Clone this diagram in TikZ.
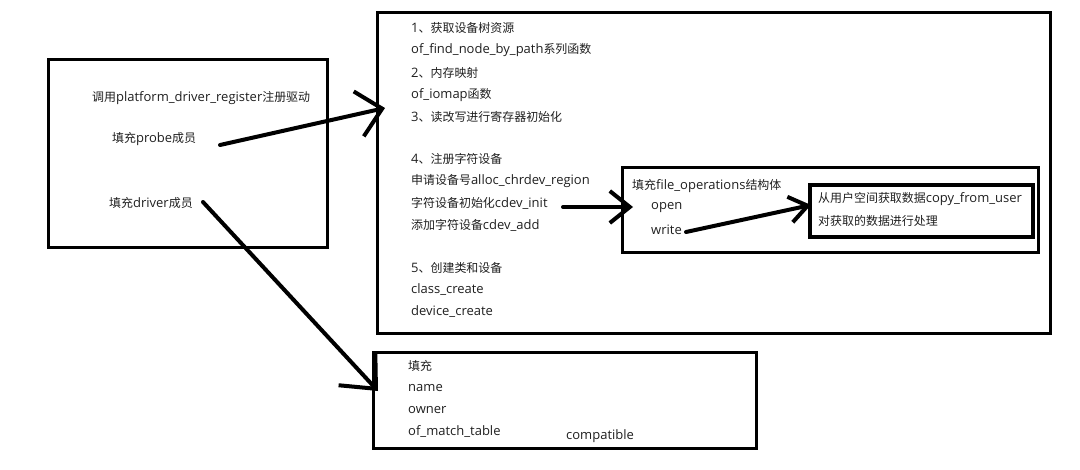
\documentclass[tikz,border=0pt]{standalone}
\usepackage{fontspec}
\setmainfont{Open Sans}
\newfontfamily\cjkfont[Scale=0.92]{Noto Sans CJK SC}
\newcommand{\zh}[1]{{\cjkfont #1}}
\usetikzlibrary{arrows.meta,positioning}

\tikzset{
  box/.style={draw, line width=3pt, inner sep=0pt},
  txt/.style={anchor=west, inner sep=0pt, font=\fontsize{13}{15}\selectfont, text=black!88},
  hand/.style={line width=4pt, line cap=round, line join=round},
}

\begin{document}
\begin{tikzpicture}[x=1pt,y=-1pt]
\useasboundingbox (0,0) rectangle (1080,469);
% Driver box
\node[box, minimum width=279pt, minimum height=188pt] (drvbox) at (187.5,153) {};
\node[txt] (reg) at (92,98) {\zh{调用}platform\_driver\_register\zh{注册驱动}};
\node[txt] (probe) at (112,139) {\zh{填充}probe\zh{成员}};
\node[txt] (drv) at (109,203) {\zh{填充}driver\zh{成员}};
% Probe box
\node[box, minimum width=673pt, minimum height=321pt] (probebox) at (713.5,172.5) {};
\foreach \i/\y/\t in {1/28/{1\zh{、获取设备树资源}},
                      2/50/{of\_find\_node\_by\_path\zh{系列函数}},
                      3/73/{2\zh{、内存映射}},
                      4/95/{of\_iomap\zh{函数}},
                      5/117/{3\zh{、读改写进行寄存器初始化}},
                      6/159/{4\zh{、注册字符设备}},
                      7/181/{\zh{申请设备号}alloc\_chrdev\_region},
                      8/203/{\zh{字符设备初始化}cdev\_init},
                      9/225/{\zh{添加字符设备}cdev\_add},
                      10/268/{5\zh{、创建类和设备}},
                      11/290/{class\_create},
                      12/312/{device\_create}} {
  \node[txt] (ln\i) at (411,\y) {\t};
}
% file_operations box
\node[box, minimum width=416pt, minimum height=85pt] (fopsbox) at (830,209.5) {};
\node[txt] (fops) at (632,186) {\zh{填充}file\_operations\zh{结构体}};
\node[txt] (open) at (651,208) {open};
\node[txt] (write) at (651,230) {write};
% write box
\node[box, line width=4pt, minimum width=223pt, minimum height=52pt] (wrbox) at (921.5,211) {};
\node[txt] (copy) at (818,199) {\zh{从用户空间获取数据}copy\_from\_user};
\node[txt] (proc) at (818,221) {\zh{对获取的数据进行处理}};
% driver member box
\node[box, minimum width=383pt, minimum height=96pt] (membox) at (564.5,400) {};
\node[txt] (fill) at (408,366) {\zh{填充}};
\node[txt] (name) at (408,388) {name};
\node[txt] (owner) at (408,410) {owner};
\node[txt] (match) at (408,432) {of\_match\_table};
\node[txt] (compat) at (566,436) {compatible};
% Arrows
\coordinate (probetail) at (220,145);
\coordinate (probetip) at (385,108);
\coordinate (inittail) at (563,207);
\coordinate (inittip) at (633,207);
\coordinate (writetail) at (686,232);
\coordinate (writetip) at (811,205);
\coordinate (drvtail) at (203,202);
\coordinate (drvtip) at (378,391);
\draw[hand, -{Straight Barb[length=24pt,width=46pt]}] (probetail) -- (probetip);
\draw[hand, -{Straight Barb[length=20pt,width=32pt]}] (inittail) -- (inittip);
\draw[hand, -{Straight Barb[length=18pt,width=26pt]}] (writetail) -- (writetip);
\draw[hand, -{Straight Barb[length=28pt,width=50pt]}] (drvtail) -- (drvtip);
\end{tikzpicture}
\end{document}
